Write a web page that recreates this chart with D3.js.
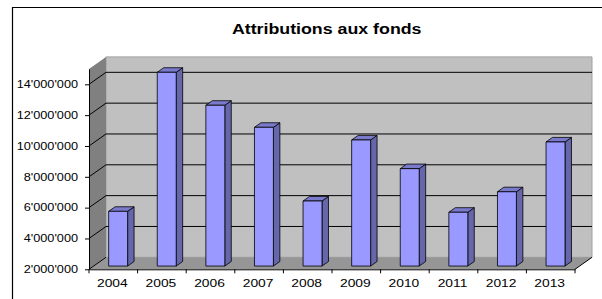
<!DOCTYPE html>
<html>
<head>
<meta charset="utf-8">
<script src="https://cdn.jsdelivr.net/npm/d3@7"></script>
<style>
  body { margin: 0; background: #fff; }
  text { font-family: 'Liberation Sans', Arial, sans-serif; fill: #000; }
</style>
</head>
<body>
<svg id="chart" width="602" height="299"></svg>
<script>
const years = ['2004', '2005', '2006', '2007', '2008', '2009', '2010', '2011', '2012', '2013']
const amounts = [5550000, 14570000, 12430000, 11000000, 6220000, 10180000, 8320000, 5490000, 6820000, 10050000]
const yTicks = [2000000, 4000000, 6000000, 8000000, 10000000, 12000000, 14000000]
const yMin = 2000000
const yMax = 15000000
const title = 'Attributions aux fonds'

const svg = d3.select('#chart')

// depth offset of the 3d box (full depth)
const DX = 17
const DY = -12
// bar front / back depth (fraction of the box depth)
const Z1 = 0.27
const Z2 = 0.65

const x = d3.scaleBand().domain(years).range([89, 575]).padding(0)
const y = d3.scaleLinear().domain([yMin, yMax]).range([269.3, 68.9])

function P (xf, yf, z) {
  return [xf + z * DX, yf + z * DY]
}
function poly (pts) {
  return pts.map(p => p.join(',')).join(' ')
}

// outer frame
svg.append('path')
  .attr('d', 'M12.5,299 V7.5 H602')
  .attr('fill', 'none')
  .attr('stroke', '#000')
  .attr('stroke-width', 1.2)

const x0 = x.range()[0]
const x1 = x.range()[1]
const yTop = y(yMax)
const yBot = y(yMin)

// back wall
svg.append('polygon')
  .attr('points', poly([P(x0, yTop, 1), P(x1, yTop, 1), P(x1, yBot, 1), P(x0, yBot, 1)]))
  .attr('fill', '#c0c0c0')
  .attr('stroke', '#a0a0a0')
  .attr('stroke-width', 1)

// side wall
svg.append('polygon')
  .attr('points', poly([P(x0, yTop, 0), P(x0, yTop, 1), P(x0, yBot, 1), P(x0, yBot, 0)]))
  .attr('fill', '#808080')

// floor
svg.append('polygon')
  .attr('points', poly([P(x0, yBot, 0), P(x1, yBot, 0), P(x1, yBot, 1), P(x0, yBot, 1)]))
  .attr('fill', '#969696')
svg.append('line')
  .attr('x1', P(x1, yBot, 0)[0]).attr('y1', P(x1, yBot, 0)[1])
  .attr('x2', P(x1, yBot, 1)[0]).attr('y2', P(x1, yBot, 1)[1])
  .attr('stroke', '#000')

// gridlines: back wall + side wall
const grid = svg.append('g').attr('stroke', '#000').attr('stroke-width', 1).attr('fill', 'none')
yTicks.forEach(t => {
  const a = P(x0, y(t), 0)
  const b = P(x0, y(t), 1)
  const c = P(x1, y(t), 1)
  if (t === yMin) {
    grid.append('path').attr('d', `M${a}L${b}`)
  } else {
    grid.append('path').attr('d', `M${a}L${b}L${c}`)
  }
})

// bars
const bw = x.bandwidth()
const bars = svg.append('g').attr('stroke', '#000').attr('stroke-width', 0.8).attr('stroke-linejoin', 'round')
years.forEach((yr, i) => {
  const xs = x(yr) + bw * 0.31
  const xe = xs + bw * 0.39
  const yv = y(amounts[i])
  const yb = y(yMin)
  const g = bars.append('g')
  g.append('polygon')
    .attr('points', poly([P(xe, yv, Z1), P(xe, yv, Z2), P(xe, yb, Z2), P(xe, yb, Z1)]))
    .attr('fill', '#6666aa')
  g.append('polygon')
    .attr('points', poly([P(xs, yv, Z1), P(xe, yv, Z1), P(xe, yv, Z2), P(xs, yv, Z2)]))
    .attr('fill', '#7a7acc')
  g.append('polygon')
    .attr('points', poly([P(xs, yv, Z1), P(xe, yv, Z1), P(xe, yb, Z1), P(xs, yb, Z1)]))
    .attr('fill', '#9999ff')
})

// value axis
const fmt = v => d3.format(',')(v).replace(/,/g, "'")
const yAxis = svg.append('g').attr('transform', `translate(${x0},0)`)
  .call(d3.axisLeft(y).tickValues(yTicks).tickSize(4).tickSizeOuter(0).tickFormat(fmt))
yAxis.select('.domain').attr('stroke', '#000')
yAxis.selectAll('text')
  .attr('x', null).attr('dy', null)
  .attr('font-size', 10)
  .attr('text-anchor', 'end')
  .attr('transform', 'translate(-11,3.2) scale(1.27,1)')

// category axis
const xAxis = svg.append('g').attr('transform', `translate(0,${yBot})`)
  .call(d3.axisBottom(x).tickSize(0).tickSizeOuter(0))
xAxis.select('.domain').attr('stroke', '#000')
xAxis.selectAll('.tick line').remove()
xAxis.selectAll('text')
  .attr('y', null).attr('dy', null)
  .attr('font-size', 11.5)
  .attr('transform', 'translate(-1,18) scale(1.2,1)')
xAxis.selectAll('.bound')
  .data(d3.range(years.length + 1))
  .join('line')
  .attr('x1', i => x0 + i * bw).attr('x2', i => x0 + i * bw)
  .attr('y1', 0).attr('y2', 4)
  .attr('stroke', '#000')

// title
svg.append('text')
  .attr('transform', 'translate(326.7,34) scale(1.27,1)')
  .attr('text-anchor', 'middle')
  .attr('font-size', 14)
  .attr('font-weight', 'bold')
  .text(title)
</script>
</body>
</html>
